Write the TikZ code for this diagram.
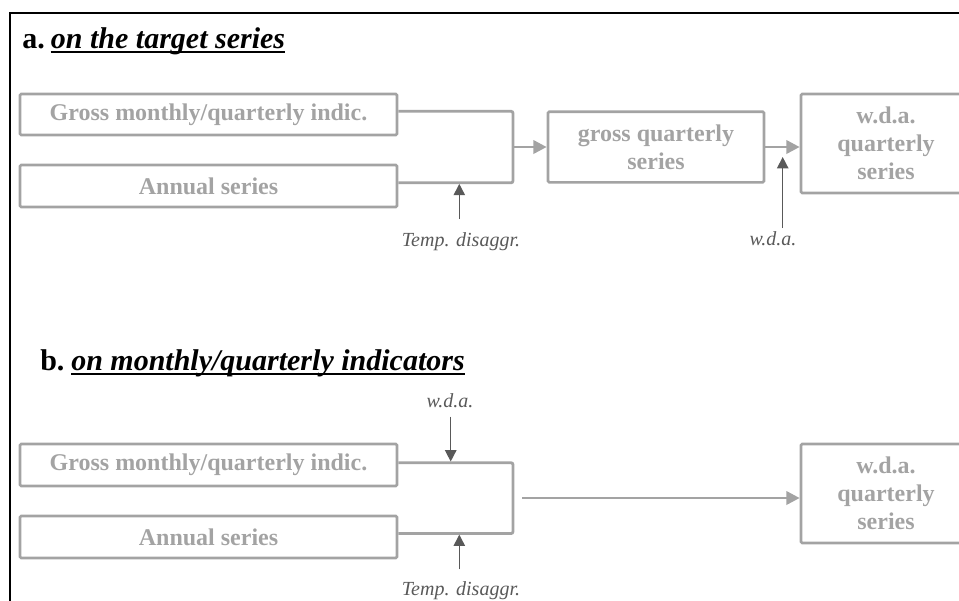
\documentclass[tikz,border=0pt]{standalone}
\usepackage{fontspec}
\setmainfont{Liberation Serif}
\usetikzlibrary{arrows.meta}
\definecolor{boxgray}{HTML}{A3A3A3}
\definecolor{labgray}{HTML}{595959}
\begin{document}
\begin{tikzpicture}[x=0.75pt,y=-0.75pt,
  box/.style={draw=boxgray, line width=2pt, text=boxgray, rounded corners=1pt,
    font=\bfseries\fontsize{18}{21}\selectfont, align=center, inner sep=0pt},
  lab/.style={text=labgray, font=\itshape\fontsize{15}{18}\selectfont, inner sep=0pt, anchor=base},
  ttl/.style={font=\bfseries\fontsize{22.5}{26}\selectfont, inner sep=0pt, anchor=base west},
  conn/.style={draw=boxgray, line width=2.1pt, rounded corners=1.5pt},
  arr/.style={draw=boxgray, line width=2.1pt, -{Triangle[length=10pt,width=10pt]}},
  sarr/.style={draw=labgray, line width=1.1pt, -{Triangle[length=8.5pt,width=8.5pt]}},
  uline/.style={line width=1.7pt}]
\useasboundingbox (0,0) rectangle (959,600);
\clip (0,0) rectangle (959,600);
% frame
\draw[line width=1.6pt] (10,620) -- (10,13) -- (980,13);

% ---------- a ----------
\node[ttl] (ta) at (22,48.3) {a.};
\node[ttl, font=\bfseries\itshape\fontsize{22.5}{26}\selectfont] (tai) at (50.7,48.3) {on the target series};
\draw[uline] ([yshift=-2.6pt]tai.base west) -- ([yshift=-2.6pt]tai.base east);

\node[box, minimum width=282.75pt, minimum height=30.75pt] (a1) at (208.5,114.5) {Gross monthly/quarterly indic.};
\node[box, minimum width=282.75pt, minimum height=31.5pt] (a2) at (208.5,186) {Annual series};
\node[box, minimum width=162pt, minimum height=53pt] (a3) at (656,147) {gross quarterly\\series};
\node[box, minimum width=127.5pt, minimum height=74.25pt] (a4) at (886,143.5) {w.d.a.\\quarterly\\series};

\coordinate (ja) at (513,147);
\draw[conn] ([yshift=2.4pt]a1.east) -| (ja) |- ([yshift=2.4pt]a2.east);
\draw[arr] (ja) -- (a3.west);
\draw[arr] (a3.east) -- (a4.west |- a3.east);

\node[lab] (tda) at (461,246.7) {Temp. disaggr.};
\node[lab] (wda) at (773,245.5) {w.d.a.};
\coordinate (tda0) at (459.3,219);
\coordinate (wda0) at (782.7,228);
\draw[sarr] (tda0) -- ([yshift=1.6pt]tda0 |- a2.east);
\draw[sarr] (wda0) -- ([yshift=-7.5pt]wda0 |- a3.east);

% ---------- b ----------
\node[ttl] (tb) at (40,370) {b.};
\node[ttl, font=\bfseries\itshape\fontsize{22.5}{26}\selectfont] (tbi) at (71,370) {on monthly/quarterly indicators};
\draw[uline] ([yshift=-2.8pt]tbi.base west) -- ([yshift=-2.8pt]tbi.base east);

\node[box, minimum width=282.75pt, minimum height=31.5pt] (b1) at (208.5,465) {Gross monthly/quarterly indic.};
\node[box, minimum width=282.75pt, minimum height=31.5pt] (b2) at (208.5,537) {Annual series};
\node[box, minimum width=127.5pt, minimum height=74.25pt] (b4) at (886,493.5) {w.d.a.\\quarterly\\series};

\coordinate (jb) at (513,498);
\draw[conn] ([yshift=1.7pt]b1.east) -| (jb) |- ([yshift=2.6pt]b2.east);
\draw[arr] ([xshift=6.75pt]jb) -- (b4.west |- jb);

\node[lab] (wdb) at (450,407.3) {w.d.a.};
\node[lab] (tdb) at (461,595) {Temp. disaggr.};
\coordinate (wdb0) at (450.7,416.7);
\coordinate (tdb0) at (459.3,569.3);
\draw[sarr] (wdb0) -- ([yshift=2.6pt]wdb0 |- b1.east);
\draw[sarr] (tdb0) -- ([yshift=1.8pt]tdb0 |- b2.east);
\end{tikzpicture}
\end{document}
